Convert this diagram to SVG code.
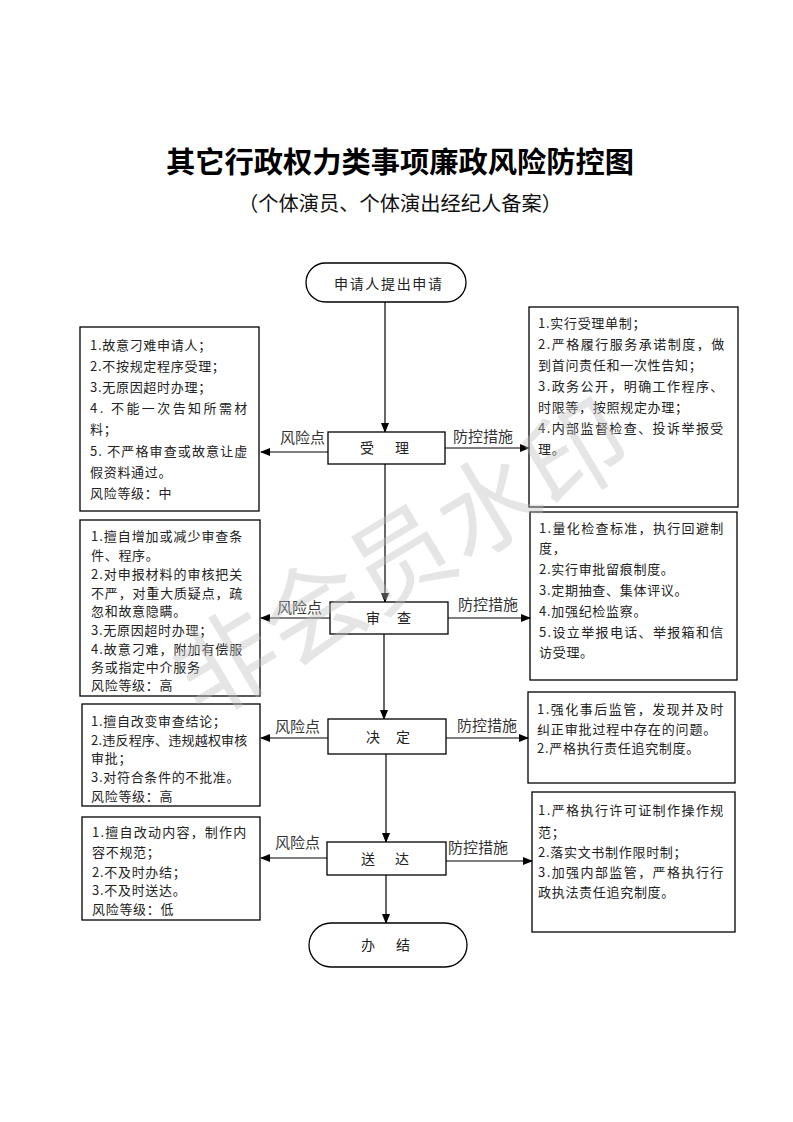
<svg xmlns="http://www.w3.org/2000/svg" width="793" height="1122" viewBox="0 0 793 1122">
<style>
text{font-family:"Noto Sans CJK SC","Noto Sans CJK JP",sans-serif;}
.title{font-size:29px;font-weight:700;fill:#000;}
.sub{font-size:20px;fill:#111;}
.box{fill:none;stroke:#000;stroke-width:1.3;}
.node{fill:#fff;stroke:#000;stroke-width:1.3;}
.t{font-size:13px;fill:#222;letter-spacing:0.7px;}
.n{font-size:14px;fill:#222;text-anchor:middle;}
.lbl{font-size:15px;fill:#333;}
.conn{stroke:#000;stroke-width:1.2;fill:none;marker-end:url(#ah);}
.wm{font-size:102px;fill:#bdbdbd;fill-opacity:0.4;text-anchor:middle;}
</style>
<defs>
<marker id="ah" markerUnits="userSpaceOnUse" markerWidth="10" markerHeight="8" refX="9" refY="4" orient="auto">
<path d="M0,0 L10,4 L0,8 Z" fill="#000"/>
</marker>
</defs>
<rect width="793" height="1122" fill="#fff"/>

<g id="title">
<text class="title" x="400" y="173" text-anchor="middle" textLength="468" lengthAdjust="spacingAndGlyphs">其它行政权力类事项廉政风险防控图</text>
<text class="sub" x="238" y="211" textLength="324" lengthAdjust="spacingAndGlyphs">（个体演员、个体演出经纪人备案）</text>
</g>

<g id="connectors">
<line class="conn" x1="385" y1="302" x2="385" y2="432"/>
<line class="conn" x1="385" y1="464" x2="385" y2="602"/>
<line class="conn" x1="384" y1="634" x2="384" y2="719"/>
<line class="conn" x1="386" y1="754" x2="386" y2="842"/>
<line class="conn" x1="386" y1="875" x2="386" y2="923"/>
<line class="conn" x1="328" y1="452" x2="261" y2="452"/>
<line class="conn" x1="445" y1="448" x2="529" y2="448"/>
<line class="conn" x1="330" y1="618" x2="261" y2="618"/>
<line class="conn" x1="448" y1="618" x2="530" y2="618"/>
<line class="conn" x1="328" y1="738" x2="261" y2="738"/>
<line class="conn" x1="446" y1="738" x2="528" y2="738"/>
<line class="conn" x1="327" y1="858" x2="261" y2="858"/>
<line class="conn" x1="446" y1="861" x2="532" y2="861"/>
<text class="lbl" x="280" y="443">风险点</text>
<text class="lbl" x="453" y="442">防控措施</text>
<text class="lbl" x="277" y="613">风险点</text>
<text class="lbl" x="458" y="610">防控措施</text>
<text class="lbl" x="275" y="732">风险点</text>
<text class="lbl" x="457" y="731">防控措施</text>
<text class="lbl" x="275" y="848">风险点</text>
<text class="lbl" x="448" y="853">防控措施</text>
</g>

<g id="start">
<rect class="node" x="306" y="263" width="160" height="39" rx="19.5"/>
<text class="n" x="388" y="289" textLength="108" lengthAdjust="spacing">申请人提出申请</text>
</g>
<g id="accept">
<rect class="node" x="328" y="432" width="117" height="32"/>
<text class="n" x="367" y="453">受</text><text class="n" x="402" y="453">理</text>
</g>
<g id="review">
<rect class="node" x="330" y="602" width="118" height="32"/>
<text class="n" x="373" y="623">审</text><text class="n" x="404" y="623">查</text>
</g>
<g id="decide">
<rect class="node" x="328" y="719" width="118" height="35"/>
<text class="n" x="373" y="742">决</text><text class="n" x="403" y="742">定</text>
</g>
<g id="deliver">
<rect class="node" x="327" y="842" width="119" height="33"/>
<text class="n" x="368" y="864">送</text><text class="n" x="402" y="864">达</text>
</g>
<g id="end">
<rect class="node" x="309" y="923" width="158" height="44" rx="22"/>
<text class="n" x="368" y="950">办</text><text class="n" x="403" y="950">结</text>
</g>

<g id="risk1">
<rect class="box" x="80" y="327" width="179" height="184"/>
<text class="t" x="90" y="350">1.故意刁难申请人；</text>
<text class="t" x="90" y="371">2.不按规定程序受理；</text>
<text class="t" x="90" y="392">3.无原因超时办理；</text>
<text class="t" x="90" y="413" textLength="158" lengthAdjust="spacing">4. 不能一次告知所需材</text>
<text class="t" x="90" y="434">料；</text>
<text class="t" x="90" y="456" textLength="158" lengthAdjust="spacing">5. 不严格审查或故意让虚</text>
<text class="t" x="90" y="477">假资料通过。</text>
<text class="t" x="90" y="498">风险等级：中</text>
</g>
<g id="ctrl1">
<rect class="box" x="529" y="307" width="209" height="200"/>
<text class="t" x="538" y="328">1.实行受理单制；</text>
<text class="t" x="538" y="349" textLength="187" lengthAdjust="spacing">2.严格履行服务承诺制度，做</text>
<text class="t" x="538" y="370">到首问责任和一次性告知；</text>
<text class="t" x="538" y="391" textLength="186" lengthAdjust="spacing">3.政务公开，明确工作程序、</text>
<text class="t" x="538" y="412">时限等，按照规定办理；</text>
<text class="t" x="538" y="433" textLength="186" lengthAdjust="spacing">4.内部监督检查、投诉举报受</text>
<text class="t" x="538" y="454">理。</text>
</g>

<g id="risk2">
<rect class="box" x="80" y="520" width="180" height="176"/>
<text class="t" x="91" y="541" textLength="152" lengthAdjust="spacing">1.擅自增加或减少审查条</text>
<text class="t" x="91" y="560">件、程序。</text>
<text class="t" x="91" y="579" textLength="152" lengthAdjust="spacing">2.对申报材料的审核把关</text>
<text class="t" x="91" y="598" textLength="152" lengthAdjust="spacing">不严，对重大质疑点，疏</text>
<text class="t" x="91" y="616">忽和故意隐瞒。</text>
<text class="t" x="91" y="635">3.无原因超时办理；</text>
<text class="t" x="91" y="654" textLength="152" lengthAdjust="spacing">4.故意刁难，附加有偿服</text>
<text class="t" x="91" y="672">务或指定中介服务</text>
<text class="t" x="91" y="690">风险等级：高</text>
</g>
<g id="ctrl2">
<rect class="box" x="530" y="512" width="207" height="168"/>
<text class="t" x="539" y="533" textLength="185" lengthAdjust="spacing">1.量化检查标准，执行回避制</text>
<text class="t" x="539" y="553">度，</text>
<text class="t" x="539" y="574">2.实行审批留痕制度。</text>
<text class="t" x="539" y="595">3.定期抽查、集体评议。</text>
<text class="t" x="539" y="616">4.加强纪检监察。</text>
<text class="t" x="539" y="637" textLength="185" lengthAdjust="spacing">5.设立举报电话、举报箱和信</text>
<text class="t" x="539" y="657">访受理。</text>
</g>

<g id="risk3">
<rect class="box" x="82" y="704" width="178" height="102"/>
<text class="t" x="91" y="726">1.擅自改变审查结论；</text>
<text class="t" x="91" y="745" textLength="157" lengthAdjust="spacing">2.违反程序、违规越权审核</text>
<text class="t" x="91" y="763">审批；</text>
<text class="t" x="91" y="782">3.对符合条件的不批准。</text>
<text class="t" x="91" y="801">风险等级：高</text>
</g>
<g id="ctrl3">
<rect class="box" x="528" y="692" width="207" height="91"/>
<text class="t" x="537" y="714" textLength="187" lengthAdjust="spacing">1.强化事后监管，发现并及时</text>
<text class="t" x="537" y="734" textLength="180" lengthAdjust="spacing">纠正审批过程中存在的问题。</text>
<text class="t" x="537" y="753">2.严格执行责任追究制度。</text>
</g>

<g id="risk4">
<rect class="box" x="82" y="817" width="178" height="103"/>
<text class="t" x="92" y="837" textLength="155" lengthAdjust="spacing">1.擅自改动内容，制作内</text>
<text class="t" x="92" y="857">容不规范；</text>
<text class="t" x="92" y="877">2.不及时办结；</text>
<text class="t" x="92" y="895">3.不及时送达。</text>
<text class="t" x="92" y="914">风险等级：低</text>
</g>
<g id="ctrl4">
<rect class="box" x="532" y="792" width="203" height="140"/>
<text class="t" x="538" y="815" textLength="186" lengthAdjust="spacing">1.严格执行许可证制作操作规</text>
<text class="t" x="538" y="837">范；</text>
<text class="t" x="538" y="857">2.落实文书制作限时制；</text>
<text class="t" x="538" y="877" textLength="186" lengthAdjust="spacing">3.加强内部监管，严格执行行</text>
<text class="t" x="538" y="897">政执法责任追究制度。</text>
</g>

<g id="watermark">
<text class="wm" transform="translate(402,560) rotate(-31)" x="0" y="35">非会员水印</text>
</g>
</svg>
